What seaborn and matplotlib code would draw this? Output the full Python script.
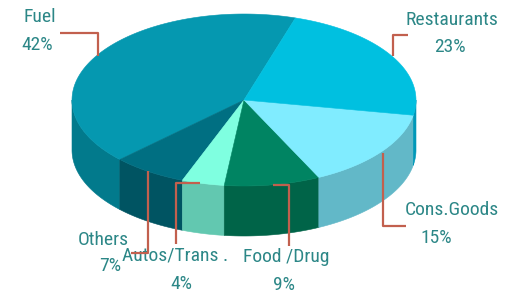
import numpy as np
import pandas as pd
import seaborn as sns
import matplotlib
matplotlib.use("Agg")
import matplotlib.pyplot as plt
from matplotlib.patches import Polygon

# ---- data (counter-clockwise from start angle) ----
labels = ["Fuel", "Others", "Autos/Trans .", "Food /Drug", "Cons.Goods", "Restaurants"]
values = [42, 7, 4, 9, 15, 23]
top_colors = ["#0598B0", "#006F82", "#7FFFE0", "#008462", "#80ECFF", "#00C0E0"]
side_colors = ["#027A8C", "#005462", "#62C8B0", "#006448", "#62B8C8", "#0098B8"]

df = pd.DataFrame({"label": labels, "value": values})

sns.set_theme(style="white")
plt.rcParams["font.family"] = ["Roboto Condensed", "Liberation Sans", "DejaVu Sans"]

fig = plt.figure(figsize=(5.12, 2.94), dpi=100)
ax = fig.add_axes([0, 0, 1, 1])
ax.set_xlim(0, 512)
ax.set_ylim(294, 0)
ax.axis("off")

cx, cy, rx, ry, depth = 244, 100, 172, 86, 50
start = 72.6


def pt(theta, dy=0.0):
    t = np.deg2rad(theta)
    return cx + rx * np.cos(t), cy - ry * np.sin(t) + dy


angles = start + np.concatenate([[0], np.cumsum(df["value"].to_numpy()) / 100 * 360])

# sides
for i in range(len(df)):
    a1, a2 = angles[i], angles[i + 1]
    for base in (180, 540):
        lo, hi = max(a1, base), min(a2, base + 180)
        if hi > lo:
            th = np.linspace(lo, hi, 80)
            topx, topy = pt(th)
            botx, boty = pt(th[::-1], depth)
            poly = np.column_stack([np.concatenate([topx, botx]), np.concatenate([topy, boty])])
            ax.add_patch(Polygon(poly, closed=True, fc=side_colors[i], ec=side_colors[i], lw=0.4, zorder=1))

# tops
for i in range(len(df)):
    th = np.linspace(angles[i], angles[i + 1], 120)
    x, y = pt(th)
    poly = np.column_stack([np.concatenate([[cx], x]), np.concatenate([[cy], y])])
    ax.add_patch(Polygon(poly, closed=True, fc=top_colors[i], ec=top_colors[i], lw=0.4, zorder=2))

text_color = "#2C8787"
line_color = "#C2604E"
fs = 14

label_pos = {
    "Fuel": ((40, 17), (37, 45)),
    "Restaurants": ((452, 20), (450, 47)),
    "Cons.Goods": ((452, 210), (436, 238)),
    "Food /Drug": ((286, 257), (284, 285)),
    "Others": ((103, 240), (110, 266)),
    "Autos/Trans .": ((175, 256), (181, 284)),
}
leaders = {
    "Fuel": [(60, 33), (98, 33), (98, 56)],
    "Restaurants": [(408, 35), (393, 35), (393, 56)],
    "Cons.Goods": [(383, 153), (383, 226), (406, 226)],
    "Food /Drug": [(273, 185), (289, 185), (289, 246)],
    "Others": [(148, 171), (148, 253), (131, 253)],
    "Autos/Trans .": [(200, 183), (176, 183), (176, 244)],
}

for lab, val in zip(df["label"], df["value"]):
    (lx, ly), (px, py) = label_pos[lab]
    ax.text(lx, ly, lab, ha="center", va="center", fontsize=fs, color=text_color, zorder=4)
    ax.text(px, py, f"{val}%", ha="center", va="center", fontsize=fs, color=text_color, zorder=4)
    xs, ys = zip(*leaders[lab])
    ax.plot(xs, ys, color=line_color, lw=1.6, zorder=5, solid_capstyle="butt")

fig.savefig("out.png", dpi=100)
